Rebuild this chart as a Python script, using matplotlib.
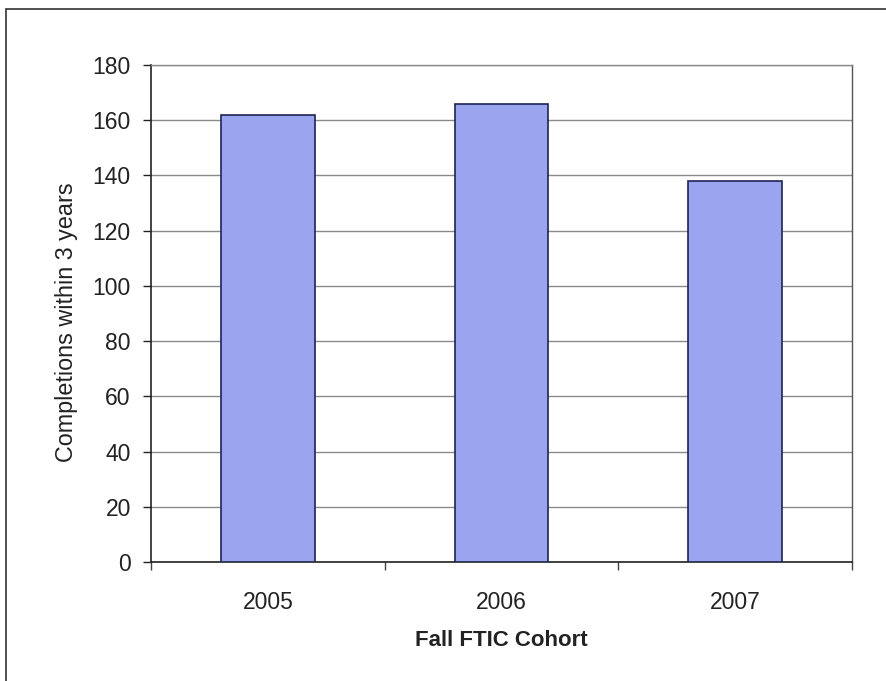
import matplotlib
matplotlib.use("Agg")
import matplotlib.pyplot as plt
from matplotlib.patches import Rectangle

cohorts = ["2005", "2006", "2007"]
completions = [162, 166, 138]
y_ticks = [0, 20, 40, 60, 80, 100, 120, 140, 160, 180]

plt.rcParams["font.family"] = ["Liberation Sans", "DejaVu Sans"]

W, H = 887, 681
fig = plt.figure(figsize=(W / 100, H / 100), dpi=100)
fig.patch.set_facecolor("white")

# chart frame
fig.add_artist(Rectangle((6 / W, -0.05), 1.1, 1 - 9 / H + 0.05,
                         transform=fig.transFigure, fill=False,
                         edgecolor="#333333", linewidth=1.2))

left, right, top, bottom = 151, 852, 65, 562
ax = fig.add_axes([left / W, 1 - bottom / H, (right - left) / W, (bottom - top) / H])

x = list(range(len(cohorts)))
ax.bar(x, completions, width=0.4, color="#9ba4ee", edgecolor="#1c2455",
       linewidth=1.2, zorder=3)

ax.set_xlim(-0.5, len(cohorts) - 0.5)
ax.set_ylim(0, 180)
ax.set_yticks(y_ticks)
ax.set_xticks(x)
ax.set_xticklabels(cohorts)
ax.set_xticks([i - 0.5 for i in range(len(cohorts) + 1)], minor=True)

ax.yaxis.grid(True, color="#8a8a8a", linewidth=1.0, zorder=0)
ax.tick_params(axis="y", direction="out", length=6, width=1, pad=8.5,
               labelsize=16.5, colors="#222222", labelcolor="#222222")
ax.tick_params(axis="x", which="major", length=0, pad=21, labelsize=16.5,
               labelcolor="#222222")
ax.tick_params(axis="x", which="minor", direction="out", length=6, width=1,
               color="#444444")

for side in ["left", "bottom"]:
    ax.spines[side].set_color("#222222")
    ax.spines[side].set_linewidth(1.2)
ax.spines["right"].set_color("#555555")
ax.spines["right"].set_linewidth(1.0)
ax.spines["top"].set_color("#8a8a8a")
ax.spines["top"].set_linewidth(1.0)

ax.set_ylabel("Completions within 3 years", fontsize=16.8, color="#222222")
ax.yaxis.set_label_coords((67 - left) / (right - left), (bottom - 322) / (bottom - top))
ax.set_xlabel("Fall FTIC Cohort", fontsize=16, fontweight="bold",
              color="#222222")
ax.xaxis.set_label_coords(0.5, (bottom - 640) / (bottom - top))
ax.yaxis.label.set_va("center")
ax.xaxis.label.set_va("center")

fig.savefig("out.png", dpi=100, facecolor="white")
